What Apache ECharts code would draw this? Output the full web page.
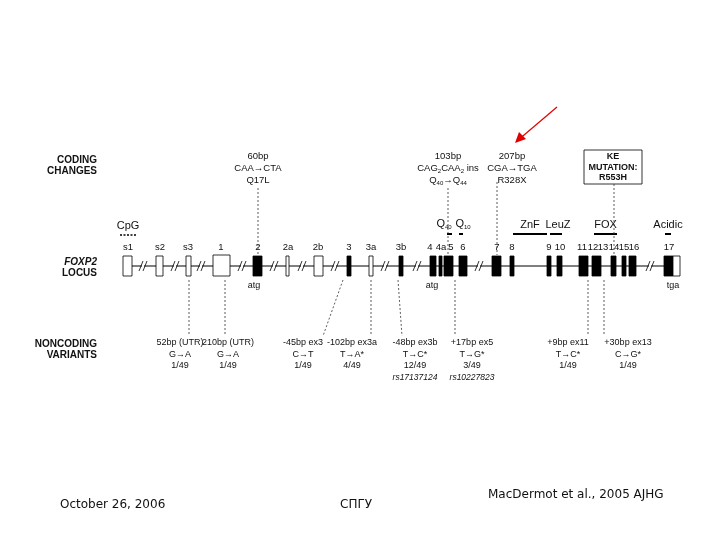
<!DOCTYPE html>
<html>
<head>
<meta charset="utf-8">
<script src="https://cdn.jsdelivr.net/npm/echarts@6/dist/echarts.min.js"></script>
<style>html,body{margin:0;padding:0;background:#fff}#main{width:720px;height:540px}</style>
</head>
<body>
<div id="main"></div>
<script>
// exon name, start, end, filled
var exonNames = ['s1','s2','s3','1','2','2a','2b','3','3a','3b','4','4a','5','6','7','8','9','10','11','12','13','14','15','16','17'];
var exonStart = [123,156,186,213,253,286,314,347,369,399,430,439,444,459,492,510,547,557,579,592,597,611,622,629,664];
var exonEnd   = [132,163,191,230,262,289,323,351,373,403,436,442,453,467,501,514,551,562,588,597,601,616,626,636,673];
var exonFill  = [0,0,0,0,1,0,0,1,0,1,1,1,1,1,1,1,1,1,1,1,1,1,1,1,1];
var exonLabelX = [128,160,188,221,258,288,318,349,371,401,430,441,451,463,497,512,549,560,582,593,603,614,624,634,669];
var breaks = [143,175,201,242,274,302,335,385,417,479,650];
var domainNames = ['ZnF','LeuZ','FOX','Acidic'];
var domainStart = [513,550,594,665];
var domainEnd   = [547,562,617,671];
var codingText = [['60bp','CAA\u2192CTA','Q17L'],['103bp','CAG{s|2}CAA{s|2} ins','Q{s|40}\u2192Q{s|44}'],['207bp','CGA\u2192TGA','R328X']];
var codingX = [258,448,512];
var codingLineX = [258,448,497];
var noncodingText = [
  ['52bp (UTR)','G\u2192A','1/49'],
  ['210bp (UTR)','G\u2192A','1/49'],
  ['-45bp ex3','C\u2192T','1/49'],
  ['-102bp ex3a','T\u2192A*','4/49'],
  ['-48bp ex3b','T\u2192C*','12/49','{i|rs17137124}'],
  ['+17bp ex5','T\u2192G*','3/49','{i|rs10227823}'],
  ['+9bp ex11','T\u2192C*','1/49'],
  ['+30bp ex13','C\u2192G*','1/49']
];
var noncodingX = [180,228,303,352,415,472,568,628];
var noncodingFrom = [189,225,343,371,398,455,588,604];
var noncodingTo = [189,225,323,371,402,455,588,604];

var LINE_Y = 266, FONT = '"Liberation Sans", Arial, sans-serif';

function txt(p, s, opt) {
  return {type:'text', style: Object.assign({x:p[0], y:p[1], text:s, fill:'#111', font:'9px ' + FONT, align:'center', verticalAlign:'middle',
    rich:{s:{fontSize:6, verticalAlign:'bottom', padding:[6,0,0,0]}, i:{fontStyle:'italic', fontSize:8.5}}}, opt || {})};
}
function dotted(a, b) {
  return {type:'line', shape:{x1:a[0], y1:a[1], x2:b[0], y2:b[1]}, style:{stroke:'#333', lineWidth:0.8, lineDash:[2,2]}};
}

function renderAll(params, api) {
  var c = function (x, y) { return api.coord([x, y]); };
  var els = [];
  // locus backbone
  els.push({type:'line', shape:{x1:c(132,0)[0], y1:c(0,LINE_Y)[1], x2:c(680,0)[0], y2:c(0,LINE_Y)[1]}, style:{stroke:'#000', lineWidth:1}});
  breaks.forEach(function (b) {
    [-2, 2].forEach(function (d) {
      var p = c(b + d, LINE_Y);
      els.push({type:'line', shape:{x1:p[0]-2, y1:p[1]+5, x2:p[0]+2, y2:p[1]-5}, style:{stroke:'#000', lineWidth:0.8}});
    });
    var q = c(b, LINE_Y);
    els.push({type:'rect', shape:{x:q[0]-1, y:q[1]-1, width:2, height:2}, style:{fill:'#fff'}});
  });
  exonNames.forEach(function (n, i) {
    var tall = n === '1';
    var top = c(exonStart[i], tall ? 255 : 256), bot = c(exonEnd[i], 276);
    els.push({type:'rect', shape:{x:top[0], y:top[1], width:bot[0]-top[0], height:bot[1]-top[1]},
      style:{fill: exonFill[i] ? '#000' : '#fff', stroke:'#000', lineWidth:0.8}});
    els.push(txt(c(exonLabelX[i], 247), n, {font:'9.5px ' + FONT}));
  });
  // 3' UTR open part of exon 17
  var u0 = c(673, 256), u1 = c(680, 276);
  els.push({type:'rect', shape:{x:u0[0], y:u0[1], width:u1[0]-u0[0], height:u1[1]-u0[1]}, style:{fill:'#fff', stroke:'#000', lineWidth:0.8}});
  // atg/tga
  els.push(txt(c(254, 286), 'atg'), txt(c(432, 286), 'atg'), txt(c(673, 286), 'tga'));
  // domains
  domainNames.forEach(function (n, i) {
    var a = c(domainStart[i], 234), b = c(domainEnd[i], 234);
    els.push({type:'line', shape:{x1:a[0], y1:a[1], x2:b[0], y2:b[1]}, style:{stroke:'#000', lineWidth:2}});
    els.push(txt(c((domainStart[i] + domainEnd[i]) / 2 + (n === 'LeuZ' ? 2 : 0), 225), n, {font:'11px ' + FONT}));
  });
  // polyQ marks
  [['Q{s|40}',447,452,444],['Q{s|10}',459,463,463]].forEach(function (q) {
    var a = c(q[1], 234), b = c(q[2], 234);
    els.push({type:'line', shape:{x1:a[0], y1:a[1], x2:b[0], y2:b[1]}, style:{stroke:'#000', lineWidth:2}});
    els.push(txt(c(q[3], 224), q[0], {font:'11px ' + FONT}));
  });
  // CpG
  els.push(txt(c(128, 226), 'CpG', {font:'11px ' + FONT}));
  els.push({type:'line', shape:{x1:c(120,0)[0], y1:c(0,235)[1], x2:c(136,0)[0], y2:c(0,235)[1]}, style:{stroke:'#000', lineWidth:1.5, lineDash:[2,1.5]}});
  // coding changes
  codingText.forEach(function (lines, i) {
    lines.forEach(function (s, k) { els.push(txt(c(codingX[i], 156 + k * 12), s, {font:'9.5px ' + FONT})); });
    els.push(dotted(c(codingLineX[i], i === 2 ? 182 : 188), c(codingLineX[i], 255)));
  });
  // KE mutation box
  var k0 = c(584, 150), k1 = c(642, 184);
  els.push({type:'rect', shape:{x:k0[0], y:k0[1], width:k1[0]-k0[0], height:k1[1]-k0[1]}, style:{fill:'#fff', stroke:'#000', lineWidth:0.8}});
  ['KE','MUTATION:','R553H'].forEach(function (s, k) { els.push(txt(c(613, 157 + k * 10.5), s, {font:'bold 9px ' + FONT})); });
  els.push(dotted(c(614, 184), c(614, 255)));
  // noncoding
  noncodingText.forEach(function (lines, i) {
    lines.forEach(function (s, k) { els.push(txt(c(noncodingX[i], 343 + k * 11.5), s)); });
    els.push(dotted(c(noncodingFrom[i], 280), c(noncodingTo[i], 336)));
  });
  // row titles
  [['CODING','CHANGES',160],['FOXP2','LOCUS',262],['NONCODING','VARIANTS',344]].forEach(function (r) {
    var bf = 'bold 10px ' + FONT;
    els.push(txt(c(97, r[2]), r[0], {align:'right', font:(r[0] === 'FOXP2' ? 'italic ' : '') + bf}));
    els.push(txt(c(97, r[2] + 11), r[1], {align:'right', font:bf}));
  });
  // red arrow
  var r0 = c(557, 107), r1 = c(517, 141);
  els.push({type:'line', shape:{x1:r0[0], y1:r0[1], x2:r1[0], y2:r1[1]}, style:{stroke:'#e00000', lineWidth:1.2}});
  els.push({type:'polygon', shape:{points:[[r1[0]-2, r1[1]+2], [r1[0]+9, r1[1]-2], [r1[0]+2, r1[1]-9]]}, style:{fill:'#e00000'}});
  // footer
  var ff = '12px Verdana, "DejaVu Sans", sans-serif';
  els.push(txt(c(60, 505), 'October 26, 2006', {align:'left', font:ff}));
  els.push(txt(c(340, 505), 'СПГУ', {align:'left', font:ff}));
  els.push(txt(c(488, 495), 'MacDermot et al., 2005 AJHG', {align:'left', font:ff}));
  return {type:'group', children:els};
}

var chart = echarts.init(document.getElementById('main'));
chart.setOption({
  animation: false,
  grid: {left:0, top:0, width:720, height:540},
  xAxis: {type:'value', min:0, max:720, show:false},
  yAxis: {type:'value', min:0, max:540, inverse:true, show:false},
  series: [{type:'custom', renderItem: function (params, api) { return params.dataIndex === 0 ? renderAll(params, api) : null; }, data:[[0,0]], silent:true, clip:false}]
});
</script>
</body>
</html>
